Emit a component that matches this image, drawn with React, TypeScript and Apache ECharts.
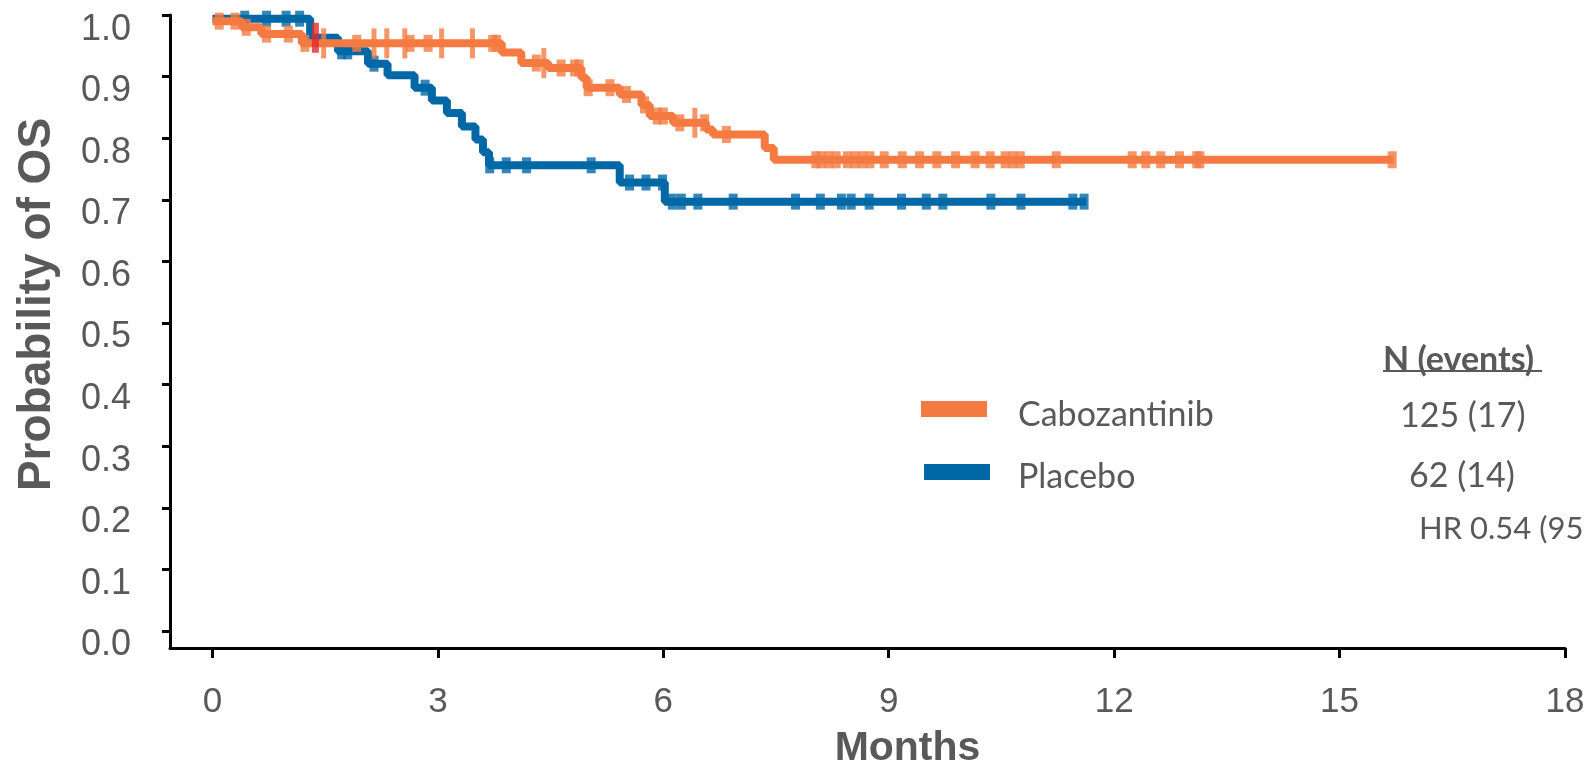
import React, { useEffect, useRef } from "react";
import * as echarts from "echarts";

// ---- Data ----
const X_TICKS = [0, 3, 6, 9, 12, 15, 18];
const Y_TICKS = [0, 0.1, 0.2, 0.3, 0.4, 0.5, 0.6, 0.7, 0.8, 0.9, 1.0];

// Cabozantinib KM steps (time in months, survival after that time)
const CABO_T = [0, 0.39, 0.65, 1.19, 3.85, 4.11, 4.47, 4.91, 4.98, 5.42, 5.71, 5.82, 6.13, 6.57, 6.66, 7.35, 7.47, 15.72];
const CABO_S = [0.99, 0.98, 0.969, 0.954, 0.939, 0.922, 0.914, 0.898, 0.882, 0.871, 0.854, 0.836, 0.825, 0.814, 0.806, 0.784, 0.765, 0.765];

// Placebo KM steps
const PBO_T = [0, 1.3, 1.67, 2.07, 2.33, 2.69, 2.92, 3.12, 3.32, 3.5, 3.6, 3.68, 5.42, 6.02, 11.63];
const PBO_S = [0.994, 0.963, 0.941, 0.921, 0.902, 0.882, 0.861, 0.841, 0.819, 0.798, 0.777, 0.756, 0.728, 0.697, 0.697];

// Censor times
const CABO_CENSOR = [0.09, 0.3, 0.45, 0.72, 1.01, 1.23, 1.92, 2.63, 2.87, 3.73, 3.78, 4.31, 4.64, 4.82, 4.88, 5.0, 5.29, 5.51, 5.75, 5.92, 6.0, 6.22, 6.55, 6.84, 8.03, 8.1, 8.2, 8.3, 8.45, 8.55, 8.65, 8.75, 8.94, 9.18, 9.41, 9.64, 9.89, 10.15, 10.35, 10.55, 10.65, 10.75, 11.23, 12.24, 12.42, 12.62, 12.87, 13.1, 13.14, 15.7];
const CABO_CENSOR_TALL = [1.48, 2.15, 2.32, 2.56, 3.05, 3.46, 4.41, 6.42];
const PBO_CENSOR = [0.43, 0.72, 0.98, 1.16, 1.72, 1.8, 2.15, 2.83, 3.69, 3.91, 4.18, 5.04, 5.55, 5.77, 5.99, 6.12, 6.24, 6.46, 6.93, 7.76, 8.09, 8.37, 8.5, 8.74, 9.17, 9.5, 9.72, 10.36, 10.76, 11.45, 11.6];
const RED_MARK = [1.37];

const LEGEND_NAMES = ["Cabozantinib", "Placebo"];
const LEGEND_N = ["125 (17)", "62 (14)"];
const HEADER = "N (events)";
const HR_TEXT = "HR 0.54 (95";

const ORANGE = "#F47A42";
const BLUE = "#0068A6";
const RED = "#E32B2B";
const TEXT = "#595959";

function stepAt(T: number[], S: number[], t: number) {
  let v = S[0];
  for (let i = 0; i < T.length; i++) if (T[i] <= t) v = S[i];
  return v;
}

export default function App() {
  const ref = useRef<HTMLDivElement>(null);
  useEffect(() => {
    if (!ref.current) return;
    const chart = echarts.init(ref.current, null, { renderer: "svg" });
    const caboLine = CABO_T.map((t, i) => [t, CABO_S[i]]);
    const pboLine = PBO_T.map((t, i) => [t, PBO_S[i]]);
    const axisFont = "'Liberation Sans', Arial, sans-serif";
    const legFont = "Lato, 'Open Sans', sans-serif";
    chart.setOption({
      animation: false,
      grid: { left: 170, right: 23, top: 15, bottom: 122, containLabel: false, outerBoundsMode: "none" },
      xAxis: {
        type: "value",
        min: -0.565,
        max: 18,
        axisLine: { show: true, onZero: false, lineStyle: { color: "#000", width: 3 } },
        axisTick: { show: true, customValues: X_TICKS, length: 10, lineStyle: { color: "#000", width: 3 } },
        axisLabel: { customValues: X_TICKS, margin: 34, fontSize: 35, color: TEXT, fontFamily: axisFont },
        splitLine: { show: false },
        name: "Months",
        nameLocation: "middle",
        nameGap: 82,
        nameTextStyle: {
          fontSize: 41,
          lineHeight: 32,
          fontWeight: "bold",
          color: TEXT,
          fontFamily: axisFont,
          padding: [0, 0, 0, 80],
        },
      },
      yAxis: {
        type: "value",
        min: -0.0276,
        max: 1,
        axisLine: { show: true, onZero: false, lineStyle: { color: "#000", width: 3 } },
        axisTick: { show: true, customValues: Y_TICKS, length: 8, lineStyle: { color: "#000", width: 3 } },
        axisLabel: {
          customValues: Y_TICKS,
          formatter: (v: number) => v.toFixed(1),
          margin: 39,
          fontSize: 36,
          color: TEXT,
          fontFamily: axisFont,
          verticalAlign: "top",
          lineHeight: 24,
        },
        splitLine: { show: false },
        name: "Probability of OS",
        nameLocation: "middle",
        nameGap: 113,
        nameTextStyle: { fontSize: 46, fontWeight: "bold", color: TEXT, fontFamily: axisFont, padding: [0, 0, 0, 54] },
      },
      series: [
        {
          type: "line",
          name: "Placebo",
          data: pboLine,
          step: "end",
          symbol: "none",
          showSymbol: false,
          lineStyle: { color: BLUE, width: 8 },
          itemStyle: { color: BLUE },
          z: 2,
        },
        {
          type: "scatter",
          name: "Placebo censored",
          data: PBO_CENSOR.map((t) => [t, stepAt(PBO_T, PBO_S, t)]),
          symbol: "rect",
          symbolSize: [9, 16],
          itemStyle: { color: BLUE },
          z: 3,
        },
        {
          type: "line",
          name: "Cabozantinib",
          data: caboLine,
          step: "end",
          symbol: "none",
          showSymbol: false,
          lineStyle: { color: ORANGE, width: 8 },
          itemStyle: { color: ORANGE },
          z: 4,
        },
        {
          type: "scatter",
          name: "Cabozantinib censored",
          data: CABO_CENSOR.map((t) => [t, stepAt(CABO_T, CABO_S, t)]),
          symbol: "rect",
          symbolSize: [9, 17],
          itemStyle: { color: ORANGE },
          z: 5,
        },
        {
          type: "scatter",
          name: "Cabozantinib censored (tall)",
          data: CABO_CENSOR_TALL.map((t) => [t, stepAt(CABO_T, CABO_S, t)]),
          symbol: "rect",
          symbolSize: [5, 30],
          itemStyle: { color: ORANGE },
          z: 5,
        },
        {
          type: "scatter",
          name: "Marker",
          data: RED_MARK.map((t) => [t, stepAt(PBO_T, PBO_S, t)]),
          symbol: "rect",
          symbolSize: [7, 30],
          itemStyle: { color: RED },
          z: 6,
        },
      ],
      graphic: [
        { type: "rect", shape: { x: 921, y: 401, width: 66, height: 16 }, style: { fill: ORANGE } },
        { type: "rect", shape: { x: 924, y: 464, width: 66, height: 16 }, style: { fill: BLUE } },
        { type: "text", x: 1018, y: 412, style: { text: LEGEND_NAMES[0], fontSize: 34, fontFamily: legFont, fill: TEXT, verticalAlign: "middle" } },
        { type: "text", x: 1018, y: 474, style: { text: LEGEND_NAMES[1], fontSize: 34, fontFamily: legFont, fill: TEXT, verticalAlign: "middle" } },
        { type: "text", x: 1383, y: 357, style: { text: HEADER, fontSize: 34, fontWeight: "bold", fontFamily: legFont, fill: TEXT, verticalAlign: "middle" } },
        { type: "line", shape: { x1: 1383, y1: 371, x2: 1542, y2: 371 }, style: { stroke: TEXT, lineWidth: 2 } },
        { type: "text", x: 1400, y: 413, style: { text: LEGEND_N[0], fontSize: 34, fontFamily: legFont, fill: TEXT, verticalAlign: "middle" } },
        { type: "text", x: 1409, y: 473, style: { text: LEGEND_N[1], fontSize: 34, fontFamily: legFont, fill: TEXT, verticalAlign: "middle" } },
        { type: "text", x: 1419, y: 527, style: { text: HR_TEXT, fontSize: 31, fontFamily: legFont, fill: TEXT, verticalAlign: "middle" } },
      ],
    });
    return () => chart.dispose();
  }, []);
  return <div ref={ref} style={{ position: "fixed", left: 0, top: 0, width: 1588, height: 770 }} />;
}
